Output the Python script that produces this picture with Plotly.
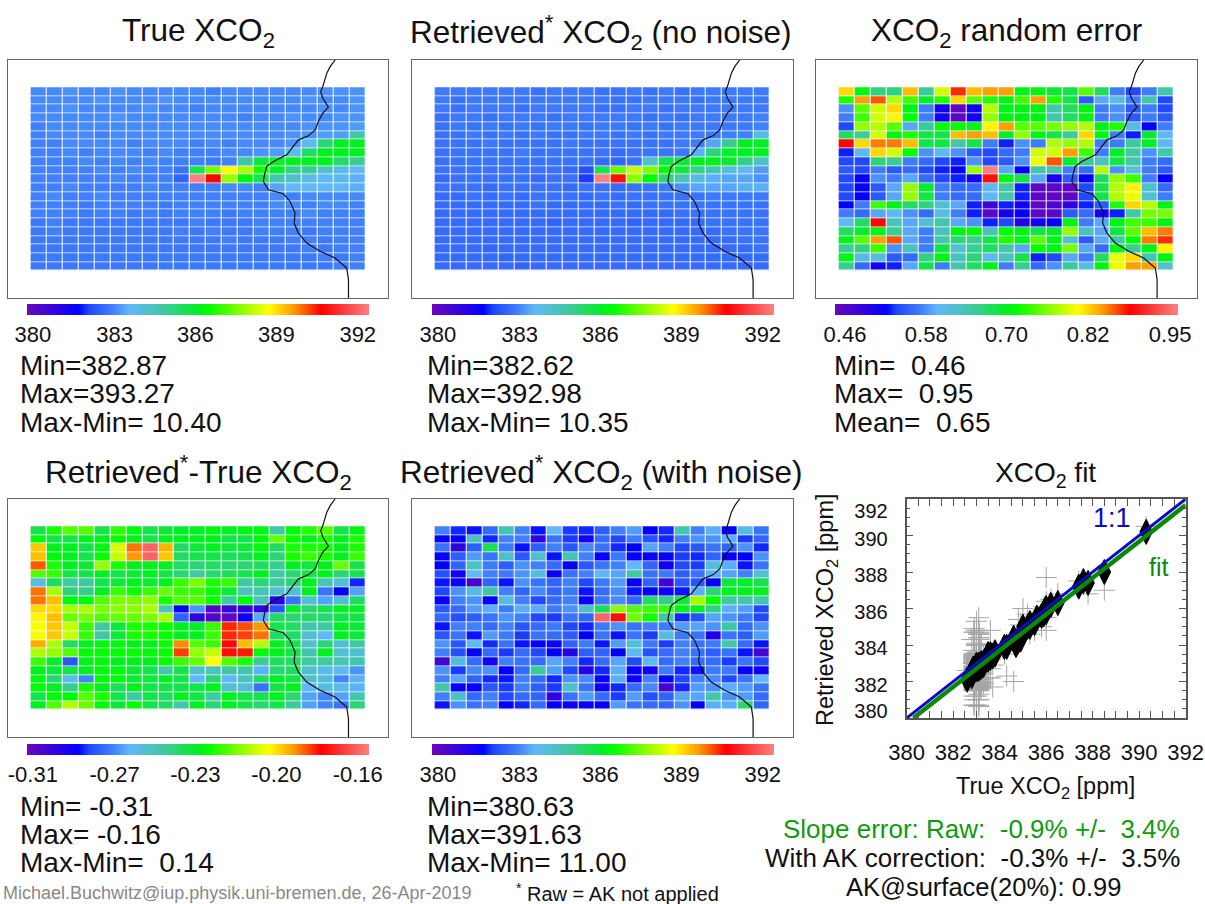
import plotly.graph_objects as go

W, H = 1205, 904

TRUE_XCO2 = [
 [383.1,383.1,383.2,383.1,383.1,383.2,383.1,383.1,383.1,383.1,383.1,383.0,383.1,383.1,383.1,383.1,383.1,383.1,383.2,383.2,383.2],
 [383.1,383.1,383.1,383.1,383.2,383.1,383.1,383.1,383.2,383.1,383.1,383.1,383.1,383.1,383.1,383.1,383.1,383.2,383.1,383.1,383.2],
 [383.1,383.1,383.2,383.1,383.1,383.1,383.1,383.2,383.1,383.1,383.0,383.1,383.1,383.1,383.1,383.1,383.1,383.1,383.2,383.1,383.2],
 [383.1,383.1,383.1,383.1,383.1,383.2,383.1,383.1,383.1,383.1,383.1,383.1,383.1,383.0,383.1,383.1,383.2,383.1,383.1,383.2,383.2],
 [383.0,383.1,383.1,383.1,383.1,383.1,383.1,383.1,383.1,383.1,383.1,383.1,383.1,383.1,383.1,383.1,383.1,383.2,383.2,383.2,383.3],
 [383.0,383.1,383.1,383.1,383.0,383.1,383.1,383.1,383.1,383.1,383.1,383.1,383.1,383.1,383.1,383.1,383.2,383.2,383.3,383.3,384.7],
 [383.0,383.0,383.1,383.1,383.1,383.1,383.0,383.1,383.1,383.1,383.0,383.1,383.0,383.1,383.1,383.1,383.2,383.7,385.2,386.0,386.0],
 [383.0,383.0,383.1,383.0,383.1,383.1,383.1,383.0,383.1,383.0,383.0,383.0,383.1,383.1,383.2,383.3,383.8,385.3,386.0,386.0,386.0],
 [383.0,383.0,383.0,383.1,383.0,383.1,383.0,383.1,383.0,383.0,383.0,382.9,383.0,384.8,385.8,385.9,386.0,386.0,386.0,385.3,384.9],
 [383.0,383.0,383.0,383.0,383.1,383.0,383.1,383.0,383.0,382.8,385.6,387.4,388.5,387.8,386.5,385.9,385.0,384.9,384.2,383.8,383.6],
 [383.0,383.0,383.0,383.0,383.0,383.1,383.0,383.0,383.0,382.6,393.27,390.3,387.6,386.2,385.5,384.6,384.3,383.8,383.6,383.7,383.5],
 [383.0,383.0,383.1,383.0,383.0,383.0,383.0,383.1,383.0,383.0,383.0,383.0,383.1,383.1,383.0,383.4,383.6,383.6,383.6,383.6,383.5],
 [383.0,383.1,383.0,383.0,383.1,383.0,383.0,383.0,383.0,383.0,383.0,383.0,383.0,383.0,383.0,383.1,383.0,383.1,383.1,383.1,383.1],
 [383.0,383.0,383.0,382.9,383.0,383.0,383.0,383.0,382.9,383.0,383.0,383.0,383.0,383.0,383.0,383.1,383.1,383.0,383.1,383.1,383.0],
 [383.0,383.0,383.0,382.9,383.0,383.0,382.9,383.0,382.9,383.0,383.0,383.0,382.9,383.0,383.0,383.0,383.0,383.1,383.0,383.0,383.0],
 [382.9,383.0,382.9,382.9,382.9,382.9,382.9,382.9,382.9,382.9,383.0,382.9,382.9,382.9,383.0,383.0,383.0,383.0,383.0,383.0,383.0],
 [382.9,383.0,382.9,382.9,382.9,382.9,382.9,382.9,382.9,383.0,382.9,383.0,382.9,382.9,383.0,383.0,383.0,382.9,383.0,383.0,383.0],
 [382.9,382.9,382.9,382.9,382.9,382.9,382.9,382.9,382.9,382.9,382.9,382.9,383.0,382.9,382.9,382.9,383.0,383.0,382.9,383.0,383.0],
 [382.9,382.9,382.9,382.9,382.87,382.9,382.9,382.9,382.9,382.9,382.9,382.9,382.9,382.9,382.9,382.9,382.9,383.0,382.9,383.0,383.0],
 [382.9,382.9,382.9,382.87,382.9,382.9,382.9,382.9,382.9,382.9,382.9,382.9,382.9,382.9,382.9,382.9,382.9,382.9,383.0,382.9,383.0],
 [382.9,382.9,382.9,382.9,382.9,382.9,382.87,382.9,382.9,382.9,382.9,382.9,382.9,382.9,382.9,382.9,382.9,382.9,382.9,383.0,383.0],
]

NONOISE_XCO2 = [
 [382.9,382.9,382.9,382.9,382.9,382.9,382.8,382.9,382.9,382.9,382.8,382.8,382.9,382.8,382.9,382.8,382.9,382.9,382.9,382.9,382.9],
 [382.9,382.8,382.9,382.9,382.9,382.9,382.9,382.9,382.9,382.9,382.9,382.8,382.8,382.9,382.9,382.9,382.8,382.9,382.9,382.9,382.9],
 [382.9,382.8,382.9,382.9,382.9,382.8,382.9,382.9,382.9,382.9,382.8,382.8,382.9,382.9,382.8,382.9,382.9,382.9,382.9,382.9,382.9],
 [382.8,382.9,382.9,382.8,382.9,382.9,382.9,382.8,382.9,382.9,382.9,382.9,382.9,382.8,382.9,382.8,382.9,382.9,382.9,382.9,383.0],
 [382.8,382.9,382.8,382.9,382.8,382.9,382.8,382.9,382.9,382.8,382.9,382.9,382.8,382.9,382.8,382.9,382.9,382.9,382.9,382.9,383.0],
 [382.8,382.8,382.9,382.8,382.9,382.8,382.9,382.8,382.8,382.9,382.9,382.8,382.9,382.8,382.9,382.9,382.9,382.9,383.0,383.0,384.0],
 [382.8,382.8,382.8,382.9,382.8,382.8,382.8,382.8,382.9,382.8,382.8,382.8,382.8,382.8,382.8,382.9,382.9,383.4,385.0,386.0,386.0],
 [382.8,382.8,382.8,382.8,382.8,382.9,382.8,382.8,382.8,382.8,382.8,382.7,382.8,382.8,382.8,382.9,383.5,385.2,385.9,386.0,386.0],
 [382.8,382.8,382.8,382.8,382.8,382.8,382.8,382.8,382.8,382.8,382.7,382.6,382.8,384.2,385.6,385.8,386.0,386.0,385.8,385.0,384.3],
 [382.8,382.8,382.8,382.8,382.8,382.8,382.8,382.8,382.7,382.3,385.5,387.2,388.0,387.4,386.3,385.7,385.0,384.6,383.9,383.6,383.3],
 [382.7,382.8,382.8,382.8,382.8,382.8,382.7,382.8,382.8,382.1,392.98,390.2,387.5,386.2,385.2,384.4,383.9,383.5,383.4,383.4,383.2],
 [382.8,382.8,382.8,382.7,382.8,382.8,382.8,382.8,382.7,382.8,382.8,382.7,382.8,382.8,382.9,383.2,383.4,383.4,383.4,383.5,383.5],
 [382.7,382.7,382.8,382.7,382.8,382.7,382.8,382.8,382.8,382.7,382.8,382.7,382.8,382.8,382.8,382.8,382.8,382.9,382.9,382.9,382.9],
 [382.7,382.7,382.7,382.7,382.7,382.7,382.8,382.7,382.7,382.7,382.7,382.8,382.7,382.8,382.8,382.8,382.8,382.8,382.8,382.8,382.8],
 [382.7,382.7,382.7,382.7,382.7,382.7,382.7,382.7,382.7,382.7,382.7,382.7,382.7,382.7,382.7,382.8,382.8,382.8,382.8,382.8,382.8],
 [382.7,382.7,382.7,382.7,382.7,382.7,382.7,382.6,382.7,382.7,382.7,382.7,382.6,382.7,382.7,382.7,382.7,382.8,382.8,382.8,382.8],
 [382.7,382.7,382.7,382.7,382.7,382.7,382.7,382.7,382.7,382.7,382.7,382.7,382.7,382.7,382.7,382.7,382.7,382.7,382.8,382.8,382.8],
 [382.7,382.7,382.7,382.7,382.7,382.7,382.7,382.7,382.7,382.7,382.7,382.7,382.7,382.7,382.7,382.7,382.7,382.7,382.7,382.8,382.8],
 [382.7,382.7,382.7,382.62,382.7,382.7,382.7,382.7,382.7,382.7,382.7,382.7,382.7,382.7,382.7,382.7,382.7,382.7,382.7,382.7,382.8],
 [382.7,382.7,382.7,382.7,382.62,382.7,382.7,382.7,382.7,382.7,382.7,382.7,382.7,382.7,382.7,382.7,382.7,382.7,382.7,382.7,382.7],
 [382.7,382.7,382.7,382.7,382.7,382.62,382.7,382.7,382.7,382.7,382.7,382.7,382.7,382.7,382.7,382.7,382.7,382.7,382.7,382.7,382.7],
]

RANDOM_ERROR = [
 [.82,.71,.67,.67,.83,.66,.79,.87,.83,.84,.84,.71,.71,.70,.69,.75,.68,.58,.55,.58,.65],
 [.73,.84,.86,.78,.74,.70,.73,.82,.75,.73,.71,.74,.84,.73,.69,.56,.60,.62,.58,.65,.55],
 [.59,.75,.79,.82,.71,.58,.52,.47,.52,.78,.71,.71,.71,.65,.68,.71,.58,.59,.56,.58,.55],
 [.58,.74,.79,.81,.72,.58,.52,.47,.52,.77,.71,.71,.71,.65,.68,.71,.58,.59,.56,.58,.56],
 [.55,.77,.78,.75,.60,.66,.72,.72,.71,.81,.84,.75,.75,.76,.77,.78,.71,.73,.62,.53,.58],
 [.68,.66,.79,.71,.73,.69,.69,.83,.84,.83,.70,.77,.71,.69,.66,.82,.71,.58,.54,.70,.61],
 [.88,.82,.85,.85,.83,.69,.69,.65,.69,.58,.54,.59,.58,.78,.77,.78,.58,.58,.66,.70,.61],
 [.54,.61,.82,.79,.72,.59,.61,.59,.56,.55,.57,.58,.79,.79,.84,.74,.58,.70,.65,.59,.65],
 [.55,.55,.67,.66,.58,.57,.55,.54,.59,.55,.56,.59,.80,.86,.70,.66,.64,.69,.65,.58,.57],
 [.56,.55,.58,.56,.57,.55,.54,.53,.77,.95,.60,.53,.65,.65,.58,.57,.78,.59,.62,.58,.56],
 [.55,.53,.59,.58,.60,.57,.55,.54,.52,.89,.71,.69,.60,.52,.56,.53,.68,.77,.74,.58,.53],
 [.55,.53,.56,.60,.77,.70,.58,.57,.57,.61,.65,.54,.47,.47,.47,.55,.69,.78,.81,.63,.57],
 [.55,.53,.56,.60,.77,.69,.58,.57,.57,.61,.65,.54,.47,.47,.47,.55,.69,.78,.80,.63,.58],
 [.53,.58,.74,.71,.68,.67,.63,.60,.54,.49,.54,.52,.47,.48,.50,.54,.56,.73,.82,.78,.71],
 [.58,.57,.60,.61,.59,.57,.62,.58,.54,.47,.52,.53,.47,.47,.56,.57,.52,.54,.65,.76,.76],
 [.61,.68,.88,.64,.60,.63,.65,.60,.59,.54,.55,.51,.52,.53,.71,.58,.60,.71,.74,.74,.71],
 [.68,.70,.71,.66,.60,.58,.64,.71,.72,.64,.72,.71,.69,.70,.77,.64,.60,.69,.75,.83,.85],
 [.71,.75,.84,.86,.60,.58,.65,.67,.66,.69,.73,.71,.75,.71,.63,.56,.60,.65,.72,.85,.87],
 [.66,.67,.74,.59,.64,.58,.69,.63,.66,.68,.65,.60,.72,.71,.76,.60,.57,.71,.66,.71,.81],
 [.71,.62,.62,.56,.57,.67,.71,.64,.67,.61,.64,.69,.54,.55,.60,.58,.68,.80,.82,.65,.71],
 [.66,.57,.52,.54,.60,.69,.58,.65,.68,.71,.58,.66,.57,.59,.66,.62,.71,.80,.84,.84,.63],
]

RETRIEVED_MINUS_TRUE = [
 [-.24,-.228,-.222,-.222,-.24,-.226,-.232,-.24,-.238,-.236,-.235,-.233,-.235,-.233,-.233,-.25,-.232,-.227,-.222,-.24,-.233],
 [-.232,-.24,-.24,-.235,-.235,-.23,-.235,-.24,-.235,-.235,-.235,-.235,-.24,-.24,-.233,-.22,-.23,-.235,-.228,-.235,-.228],
 [-.198,-.235,-.235,-.24,-.233,-.208,-.19,-.165,-.196,-.243,-.238,-.235,-.238,-.238,-.232,-.243,-.228,-.228,-.228,-.235,-.228],
 [-.197,-.232,-.235,-.24,-.23,-.21,-.193,-.165,-.198,-.243,-.24,-.24,-.242,-.24,-.235,-.245,-.228,-.225,-.228,-.235,-.225],
 [-.188,-.228,-.235,-.238,-.215,-.228,-.235,-.235,-.235,-.243,-.245,-.243,-.245,-.245,-.243,-.248,-.235,-.238,-.235,-.22,-.24],
 [-.222,-.225,-.24,-.24,-.235,-.24,-.238,-.235,-.24,-.245,-.25,-.245,-.242,-.24,-.235,-.25,-.245,-.24,-.235,-.245,-.24],
 [-.262,-.243,-.25,-.25,-.24,-.238,-.235,-.238,-.235,-.225,-.218,-.228,-.225,-.25,-.245,-.25,-.245,-.235,-.255,-.258,-.285],
 [-.19,-.213,-.245,-.248,-.235,-.225,-.23,-.225,-.22,-.225,-.225,-.23,-.238,-.255,-.252,-.258,-.258,-.235,-.275,-.288,-.268],
 [-.19,-.197,-.232,-.232,-.222,-.218,-.218,-.216,-.228,-.222,-.222,-.23,-.25,-.232,-.255,-.295,-.275,-.258,-.268,-.258,-.243],
 [-.2,-.2,-.213,-.213,-.218,-.216,-.216,-.213,-.255,-.29,-.27,-.305,-.3,-.298,-.298,-.28,-.235,-.245,-.24,-.235,-.235],
 [-.203,-.197,-.22,-.218,-.222,-.22,-.22,-.218,-.213,-.278,-.298,-.305,-.308,-.29,-.267,-.243,-.245,-.243,-.245,-.24,-.24],
 [-.205,-.198,-.21,-.225,-.25,-.238,-.228,-.228,-.23,-.235,-.235,-.225,-.184,-.187,-.193,-.24,-.243,-.252,-.25,-.235,-.238],
 [-.205,-.198,-.21,-.225,-.25,-.238,-.228,-.228,-.23,-.235,-.235,-.225,-.184,-.186,-.19,-.243,-.243,-.258,-.265,-.235,-.238],
 [-.195,-.213,-.243,-.235,-.232,-.232,-.235,-.235,-.23,-.192,-.222,-.225,-.18,-.197,-.212,-.235,-.24,-.258,-.245,-.258,-.25],
 [-.213,-.215,-.222,-.232,-.23,-.23,-.23,-.232,-.23,-.186,-.215,-.21,-.182,-.183,-.232,-.235,-.24,-.252,-.235,-.258,-.258],
 [-.225,-.237,-.28,-.235,-.232,-.235,-.235,-.235,-.23,-.225,-.22,-.204,-.222,-.228,-.25,-.242,-.243,-.25,-.25,-.253,-.252],
 [-.235,-.238,-.24,-.235,-.232,-.232,-.238,-.24,-.252,-.24,-.258,-.255,-.25,-.252,-.266,-.245,-.243,-.258,-.262,-.265,-.27],
 [-.232,-.245,-.263,-.272,-.232,-.232,-.238,-.238,-.235,-.24,-.265,-.245,-.265,-.255,-.243,-.235,-.24,-.258,-.26,-.272,-.266],
 [-.232,-.235,-.248,-.228,-.235,-.242,-.235,-.24,-.24,-.24,-.24,-.235,-.258,-.26,-.275,-.24,-.235,-.265,-.26,-.262,-.266],
 [-.24,-.232,-.232,-.222,-.228,-.24,-.252,-.24,-.243,-.235,-.24,-.25,-.235,-.24,-.24,-.235,-.245,-.268,-.272,-.268,-.252],
 [-.235,-.222,-.212,-.22,-.232,-.238,-.23,-.24,-.243,-.252,-.235,-.245,-.235,-.24,-.245,-.24,-.25,-.268,-.272,-.275,-.245],
]

NOISY_XCO2 = [
 [383,382,381.9,382.7,384.6,383,381.9,383.6,382.1,382,382.5,383,383.3,381.8,382,384.6,383,383.5,381.7,384,382.8],
 [381.7,381.8,384.4,382,383,383,381,382.8,382.1,381.5,382.7,382.2,382.9,382.3,382,383,383.2,383.2,383.5,382.1,382.6],
 [382.8,381,382.5,385.5,382.9,381.9,382.5,383,382.4,383.1,382.8,382,381.8,383.4,383,382.2,382.4,382.8,382.6,383.2,382],
 [381.7,382.5,383.3,382.8,384.3,382.4,384.3,381.9,384.6,383,381.7,382.9,381.8,381.6,381.7,382.1,382,382.6,381.6,381.8,383.2],
 [381.8,382.6,384.4,382.9,382.5,383.2,383,382.7,381.7,382.4,382.8,383,383.6,382.6,381.6,382.2,382.1,384,383.5,381.9,382.8],
 [382.3,381.5,383.6,383,382.9,383.2,384.0,381.6,382.8,383,383.7,383.4,384.8,382.8,382.9,382.5,382.8,383.5,383.4,383,384.2],
 [381.9,381.6,380.63,382.6,381.9,383.2,382.8,382.6,383,382.2,382.9,383.3,381.7,382.6,380.7,382.4,382.4,381.7,385.7,385.9,385.5],
 [382.2,383.2,384,384.8,383,382.6,383.1,382.6,382.9,381.9,382.7,383.1,381.9,381.7,381.6,381.9,383.5,385.2,386,386,386],
 [381.7,383,383.2,381.6,384,383,382.2,382.7,383,381.6,382.8,383.1,382.6,385.4,385,385.8,387.7,386.4,384.8,384.6,384.6],
 [382.4,382.7,383.3,383.5,382.9,383.5,383.5,382.9,383.2,384.3,385.5,387.5,387,386.8,386.8,386.1,386,385.1,383.5,383.3,382.2],
 [382.7,382.3,382.5,382.8,383.2,383,382.2,382.1,382.8,382.6,391.63,390.5,387.3,386.5,384.8,382,382.3,383.4,383.2,382.9,382.2],
 [381.9,383,383,382.7,383,382.4,382.7,382.9,382.2,382,382.9,383.2,382.8,383,382.9,383.3,383.4,383.2,384.8,382.7,383.2],
 [382.4,382.8,381.9,383.3,382.9,382.1,382.8,382.7,382.5,381.7,382.8,381.9,382.8,382.1,384,382.9,382.8,381.3,382.8,382.5,383.3],
 [383.2,382.4,383.7,382,382.8,381.9,381.7,381.6,382.6,382.9,381.9,383.3,384.1,382.9,382.1,383,382.8,382.9,384.7,382.7,381.9],
 [383,382.3,381.8,382.7,382.1,382.7,382.2,381.8,381.2,382.5,382.6,381.8,383.7,382.3,382.7,383,382.8,382.5,382.8,381.9,380.7],
 [380.7,384,382.7,381.5,383,382.8,382.7,383.4,383,382,382.7,383.4,382.2,383.7,382.7,383,382.7,382.7,382.1,382.8,382.2],
 [383.2,382.1,383.1,383.2,381.8,382.7,384.9,383.3,382.2,381.2,382,383.5,381.7,381.5,382.9,382,381.9,382.9,382.9,381.7,381.6],
 [383,383.4,382.6,382,381.9,383,382.7,382,383.2,383.1,381.6,383.5,381.6,383,381.7,382.2,383,383.1,382.2,382.8,383.6],
 [384.7,381.6,381.7,382.4,382.1,383,382.5,382.1,384.3,382.8,381.6,382,382.7,383.1,380.7,382,383.3,383.2,383.5,383.3,382.8],
 [383,384.3,382.7,383,382.2,382.7,382.6,381,382.8,383.3,382.7,382.1,383.3,382.3,382.6,383.4,383.4,384.7,383.2,383.3,382.7],
 [381.9,383.2,382.8,383,381.7,382,382.7,381.7,381.6,381.7,381.7,383.3,382.8,382.7,382.6,383.2,381.7,383.5,383.5,385.3,382.6],
]

COAST_X = [18.6,18.29,18.08,17.97,17.83,17.7,17.83,17.97,18.18,17.83,17.55,17.35,16.93,16.3,15.99,15.57,14.73,14.31,14.17,14.1,14.42,15.36,15.78,16.09,16.03,16.3,16.82,17.66,18.6,19.33,19.44,19.44]
COAST_Y = [-3.62,-2.86,-2.1,-1.34,-.58,0,.76,1.14,1.79,2.47,3.42,4.38,5.06,5.52,6.28,7.23,8.0,8.57,9.52,10.28,11.23,11.69,12.57,13.9,15.04,16.19,17.33,18.28,19.04,20.19,21.52,23.62]

FIT_X = [380.29, 392.0]
FIT_Y = [380.0, 391.67]
ONE_X = [380.0, 392.0]
ONE_Y = [380.0, 392.0]

STOPS = [[0,"#6a08b8"],[.15,"#0000ff"],[.18,"#1e46ff"],[.25,"#4080fc"],[.30,"#60b8f8"],[.40,"#40c8a0"],[.5,"#00f020"],[.53,"#00ff00"],
         [.707,"#ffff00"],[.78,"#ff9900"],[.86,"#ff0000"],[1,"#ff8080"]]
FONT = "Liberation Sans"

fig = go.Figure()
annos = []


def T(px, py, text, size, anchor="left", color="#111111", angle=0):
    annos.append(dict(xref="paper", yref="paper", x=px / W, y=1 - py / H, text=text, showarrow=False,
                      xanchor=anchor, yanchor="middle", textangle=angle, align=anchor,
                      font=dict(family=FONT, size=size, color=color), borderpad=0, borderwidth=0))


def map_panel(i, z, box, cbar, zrange, fracs, labels, title, title_x, title_y, stats, stats_x, stats_y):
    x0, y0, x1, y1 = box
    xa, ya = f"x{i}", f"y{i}"
    lo, hi = zrange
    fig.add_trace(go.Heatmap(
        z=z, xaxis=xa, yaxis=ya, zmin=lo, zmax=hi, colorscale=STOPS, xgap=1, ygap=0.7, hoverinfo="skip",
        colorbar=dict(orientation="h", x=cbar[0] / W, xanchor="left", xref="paper", y=1 - cbar[1] / H, yanchor="top",
                      yref="paper", lenmode="pixels", len=cbar[2], thicknessmode="pixels", thickness=11, xpad=0, ypad=0,
                      outlinewidth=0, borderwidth=0, tickmode="array",
                      tickvals=[lo + f * (hi - lo) for f in fracs], ticktext=labels, ticks="",
                      tickfont=dict(family=FONT, size=22, color="#111111"))))
    fig.add_trace(go.Scatter(x=COAST_X, y=COAST_Y, xaxis=xa, yaxis=ya, mode="lines", hoverinfo="skip",
                             line=dict(color="#111111", width=1.2), showlegend=False))
    common = dict(showgrid=False, zeroline=False, showticklabels=False, ticks="", showline=True, linecolor="#666666",
                  linewidth=1.3, mirror=True)
    fig.update_layout(**{
        f"xaxis{i}": dict(domain=[x0 / W, x1 / W], range=[-1.92, 21.92], anchor=ya, **common),
        f"yaxis{i}": dict(domain=[1 - y1 / H, 1 - y0 / H], range=[23.62, -3.62], anchor=xa, **common),
    })
    T(title_x, title_y, title, 31.5, "center")
    for s, yy in zip(stats, stats_y):
        T(stats_x, yy, s, 28)


N = "\u00a0"
Y1, Y2 = (60, 298), (499, 737)
map_panel(1, TRUE_XCO2, (8, Y1[0], 388, Y1[1]), (26.7, 304, 342), (380, 392), [.018, .257, .493, .73, .968],
          ["380", "383", "386", "389", "392"], "True XCO<sub>2</sub>", 198, 33,
          ["Min=382.87", "Max=393.27", f"Max-Min= 10.40"], 20, (365, 393, 422))
map_panel(2, NONOISE_XCO2, (412, Y1[0], 792.7, Y1[1]), (431.7, 304, 342), (380, 392), [.018, .257, .493, .73, .968],
          ["380", "383", "386", "389", "392"], "Retrieved<sup>*</sup> XCO<sub>2</sub> (no noise)", 601, 33,
          ["Min=382.62", "Max=392.98", "Max-Min= 10.35"], 427, (365, 393, 422))
map_panel(3, RANDOM_ERROR, (816, Y1[0], 1196.7, Y1[1]), (835, 304, 342.7), (0.46, 0.95), [.029, .266, .50, .738, .977],
          ["0.46", "0.58", "0.70", "0.82", "0.95"], "XCO<sub>2</sub> random error", 1006, 33,
          [f"Min={N}{N}0.46", f"Max={N}{N}0.95", f"Mean={N}{N}0.65"], 834, (365, 393, 422))
map_panel(4, RETRIEVED_MINUS_TRUE, (8, Y2[0], 388, Y2[1]), (26.7, 743.5, 342), (-0.31, -0.16), [.018, .257, .493, .73, .968],
          ["-0.31", "-0.27", "-0.23", "-0.20", "-0.16"], "Retrieved<sup>*</sup>-True XCO<sub>2</sub>", 198, 472,
          [f"Min={N}-0.31", f"Max={N}-0.16", f"Max-Min={N}{N}0.14"], 20, (806, 834, 862))
map_panel(5, NOISY_XCO2, (412, Y2[0], 792.7, Y2[1]), (431.7, 743.5, 342), (380, 392), [.018, .257, .493, .73, .968],
          ["380", "383", "386", "389", "392"], "Retrieved<sup>*</sup> XCO<sub>2</sub> (with noise)", 601, 472,
          ["Min=380.63", "Max=391.63", "Max-Min= 11.00"], 427, (806, 834, 862))

# scatter panel: points come from the map arrays
xs = [v for row in TRUE_XCO2 for v in row]
noisy = [v for row in NOISY_XCO2 for v in row]
clean = [v for row in NONOISE_XCO2 for v in row]
fig.add_trace(go.Scatter(x=xs, y=noisy, xaxis="x6", yaxis="y6", mode="markers", hoverinfo="skip", showlegend=False,
                         marker=dict(symbol="cross-thin", size=15, color="#a6a6a6", line=dict(color="#a6a6a6", width=1))))
fig.add_trace(go.Scatter(x=xs, y=clean, xaxis="x6", yaxis="y6", mode="markers", hoverinfo="skip", showlegend=False,
                         marker=dict(symbol="diamond-tall", size=18, color="#000000", line=dict(color="#000000", width=1))))
fig.add_trace(go.Scatter(x=ONE_X, y=ONE_Y, xaxis="x6", yaxis="y7", mode="lines", hoverinfo="skip", showlegend=False,
                         line=dict(color="#0a0ac8", width=3)))
fig.add_trace(go.Scatter(x=FIT_X, y=FIT_Y, xaxis="x6", yaxis="y7", mode="lines", hoverinfo="skip", showlegend=False,
                         line=dict(color="#088a08", width=4.5)))
fig.update_traces(cliponaxis=True, selector=dict(type="scatter"))

fig.update_layout(
    xaxis6=dict(domain=[906.7 / W, 1185.7 / W], range=[380, 392], anchor="y6", tickmode="array",
                tickvals=[380, 382, 384, 386, 388, 390, 392], ticktext=["380", "382", "384", "386", "388", "390", "392"],
                ticks="inside", ticklen=7, tickcolor="#555555", showline=True, linecolor="#555555", linewidth=1.5,
                mirror="allticks", showgrid=False, zeroline=False, ticklabelstandoff=14,
                tickfont=dict(family=FONT, size=22, color="#111111"),
                minor=dict(ticks="inside", ticklen=4, dtick=0.5, tickcolor="#555555", showgrid=False)),
    yaxis6=dict(domain=[1 - 718 / H, 1 - 499 / H], range=[380, 392], anchor="x6", tickmode="array",
                tickvals=[380, 382, 384, 386, 388, 390, 392], showticklabels=False,
                ticks="inside", ticklen=7, tickcolor="#555555", showline=True, linecolor="#555555", linewidth=1.5,
                mirror="allticks", showgrid=False, zeroline=False,
                minor=dict(ticks="inside", ticklen=4, dtick=0.5, tickcolor="#555555", showgrid=False)),
    yaxis7=dict(domain=[1 - 718 / H, 1 - 499 / H], range=[380, 392], anchor="x6", overlaying="y6", side="left",
                tickmode="array", tickvals=[380.38, 381.81, 383.81, 385.81, 387.81, 389.81, 391.34],
                ticktext=["380", "382", "384", "386", "388", "390", "392"], ticks="", showline=False, showgrid=False,
                zeroline=False, ticklabelstandoff=18, tickfont=dict(family=FONT, size=20, color="#111111")),
)

T(1045, 474, "XCO<sub>2</sub> fit", 28, "center")
T(1045, 787, "True XCO<sub>2</sub> [ppm]", 23.5, "center")
T(826, 610, "Retrieved XCO<sub>2</sub> [ppm]", 23.5, "center", angle=-90)
T(1112, 518, "1:1", 27, "center", "#0a0ac8")
T(1159, 567, "fit", 25, "center", "#088a08")
GREEN = "#109a10"
T(1180, 829, f"Slope error: Raw:{N}{N}-0.9% +/-{N}{N}3.4%", 26, "right", GREEN)
T(1180, 858, f"With AK correction:{N}{N}-0.3% +/-{N}{N}3.5%", 26, "right")
T(983, 887, "AK@surface(20%): 0.99", 25.5, "center")
T(3, 893, "Michael.Buchwitz@iup.physik.uni-bremen.de, 26-Apr-2019", 18, "left", "#888888")
T(516, 892, f"<sup>*</sup> Raw = AK not applied", 20, "left")

fig.update_layout(width=W, height=H, margin=dict(l=0, r=0, t=0, b=0, autoexpand=False), paper_bgcolor="white",
                  plot_bgcolor="white", showlegend=False, annotations=annos)
fig.write_html("out.html", config=dict(displayModeBar=False),
               post_script="document.body.style.margin='0';document.body.style.overflow='hidden';")
